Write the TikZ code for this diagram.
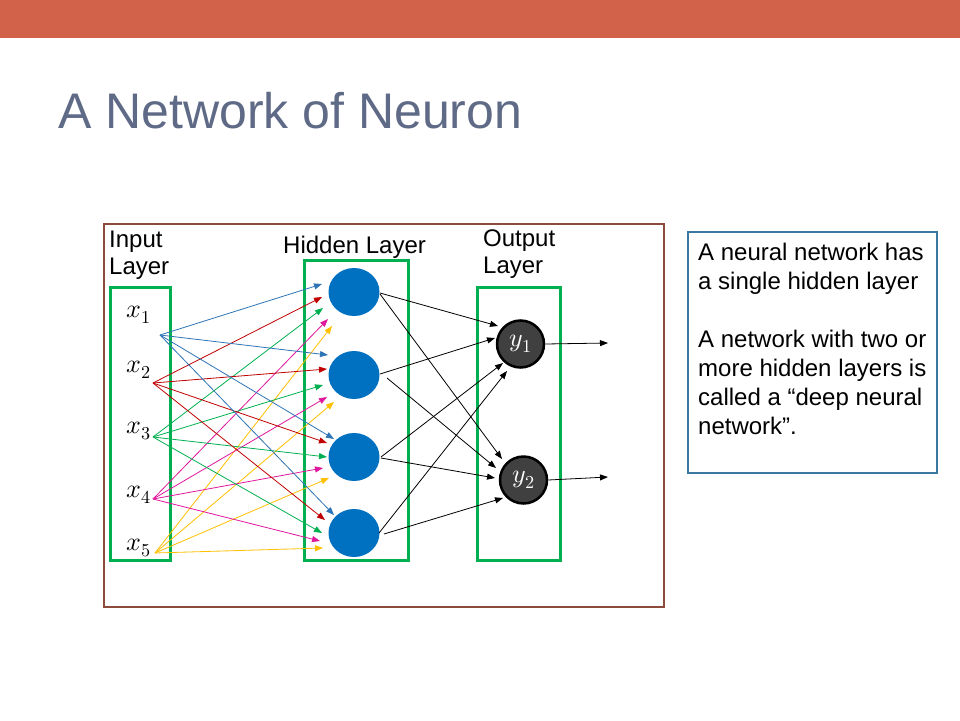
\documentclass[tikz,border=0pt]{standalone}
\usepackage{fontspec}
\usepackage{unicode-math}
\setmainfont{Liberation Sans}
\setmathfont{Latin Modern Math}
\usetikzlibrary{arrows.meta,shapes.geometric,calc}

\definecolor{barcol}{HTML}{D2634A}
\definecolor{titlecol}{HTML}{5F6A87}
\definecolor{framecol}{HTML}{8C4A3A}
\definecolor{layercol}{HTML}{00B050}
\definecolor{neuroncol}{HTML}{0070C0}
\definecolor{outcol}{HTML}{404040}
\definecolor{notecol}{HTML}{3A78A0}
\definecolor{cblue}{HTML}{2E75B6}
\definecolor{cred}{HTML}{C00000}
\definecolor{cgreen}{HTML}{00B050}
\definecolor{cmag}{HTML}{E0169C}
\definecolor{cyel}{HTML}{FFC000}

\begin{document}
\begin{tikzpicture}[x=1pt,y=-1pt,
  lbl/.style={inner sep=0pt,anchor=base west,font=\fontsize{24}{28}\selectfont},
  layerbox/.style={draw=layercol,line width=3pt},
  hidden/.style={ellipse,fill=neuroncol,minimum width=51pt,minimum height=48pt,inner sep=0pt},
  outnode/.style={circle,fill=outcol,draw=black,line width=2.5pt,minimum size=47pt,inner sep=0pt,
    text=white,font=\fontsize{26}{30}\selectfont},
  inlabel/.style={inner sep=0pt,anchor=base west,font=\fontsize{26}{30}\selectfont},
  arr/.style={-{Triangle[length=8pt,width=6pt]},line width=0.8pt},
  blk/.style={arr,black}]

% page and header bar
\useasboundingbox (0,0) rectangle (960,720);
\fill[white] (0,0) rectangle (960,720);
\fill[barcol] (0,0) rectangle (960,37.5);

\node[inner sep=0pt,anchor=base west,text=titlecol,font=\fontsize{50}{60}\selectfont]
  (title) at (58,128) {A Network of Neuron};

% outer frame of the network
\draw[framecol,line width=2pt] (104,224) rectangle (664,607);

% layer boxes
\draw[layerbox] (110,287) rectangle (170,560);
\draw[layerbox] (304,260) rectangle (408,560);
\draw[layerbox] (477,287) rectangle (560,560);

% layer captions
\node[lbl] (inA) at (109,247) {Input};
\node[lbl] (inB) at (109,274) {Layer};
\node[lbl] (hidA) at (283,253) {Hidden Layer};
\node[lbl] (outA) at (483,246) {Output};
\node[lbl] (outB) at (483,273) {Layer};

% input labels
\node[inlabel] (x1) at (126,317) {$x_1$};
\node[inlabel] (x2) at (126,372) {$x_2$};
\node[inlabel] (x3) at (126,433) {$x_3$};
\node[inlabel] (x4) at (126,497) {$x_4$};
\node[inlabel] (x5) at (126,550) {$x_5$};

% where the input connections leave from
\coordinate (s1) at (160,335);
\coordinate (s2) at (153,383);
\coordinate (s3) at (153,437);
\coordinate (s4) at (153,499);
\coordinate (s5) at (155,553);

% hidden neurons
\node[hidden] (h1) at (354,292) {};
\node[hidden] (h2) at (354,375) {};
\node[hidden] (h3) at (354,457) {};
\node[hidden] (h4) at (354,533) {};

% output neurons
\node[outnode] (y1) at (520.5,344) {$y_1$};
\node[outnode] (y2) at (523.5,480) {$y_2$};

% input -> hidden connections (tips stop short of each neuron)
\foreach \s/\h/\dx/\dy/\c in {
  1/h1/-32/-8/cblue, 2/h1/-32/5/cred, 3/h1/-31/16/cgreen, 4/h1/-26/27/cmag, 5/h1/-22/34/cyel,
  1/h2/-26/-20/cblue, 2/h2/-27/-6/cred, 3/h2/-31/10/cgreen, 4/h2/-27/22/cmag, 5/h2/-20/27/cyel,
  1/h3/-20/-18/cblue, 2/h3/-27/-14/cred, 3/h3/-27/0/cgreen, 4/h3/-31/11/cmag, 5/h3/-25/21/cyel,
  1/h4/-20/-18/cblue, 2/h4/-29/-13/cred, 3/h4/-32/0/cgreen, 4/h4/-34/8/cmag, 5/h4/-31/15/cyel}
  \draw[arr,\c] (s\s) -- ($(\h)+(\dx,\dy)$);

% hidden -> output connections
\draw[blk] ($(h1)+(26,1)$) -- ($(y1)+(-22.5,-18)$);
\draw[blk] ($(h1)+(26,2)$) -- ($(y2)+(-21.5,-21)$);
\draw[blk] ($(h2)+(26,-1)$) -- ($(y1)+(-25.5,-6)$);
\draw[blk] ($(h2)+(33,3)$) -- ($(y2)+(-27.5,-12)$);
\draw[blk] ($(h3)+(27,0)$) -- ($(y1)+(-17.5,19)$);
\draw[blk] ($(h3)+(27,1)$) -- ($(y2)+(-28.5,-2)$);
\draw[blk] ($(h4)+(25,0)$) -- ($(y1)+(-13.5,27)$);
\draw[blk] ($(h4)+(30,1)$) -- ($(y2)+(-20.5,18)$);

% outputs
\coordinate (o1) at (608,343);
\coordinate (o2) at (608,477);
\draw[blk] (y1.east) -- (o1);
\draw[blk] (y2.east) -- (o2);

% side note
\draw[notecol,line width=1.2pt] (688,232) rectangle (937,473);
\node[lbl] (n1) at (698,260) {A neural network has};
\node[lbl] (n2) at (698,289) {a single hidden layer};
\node[lbl] (n3) at (698,347) {A network with two or};
\node[lbl] (n4) at (698,376) {more hidden layers is};
\node[lbl] (n5) at (698,405) {called a “deep neural};
\node[lbl] (n6) at (698,434) {network”.};
\end{tikzpicture}
\end{document}
